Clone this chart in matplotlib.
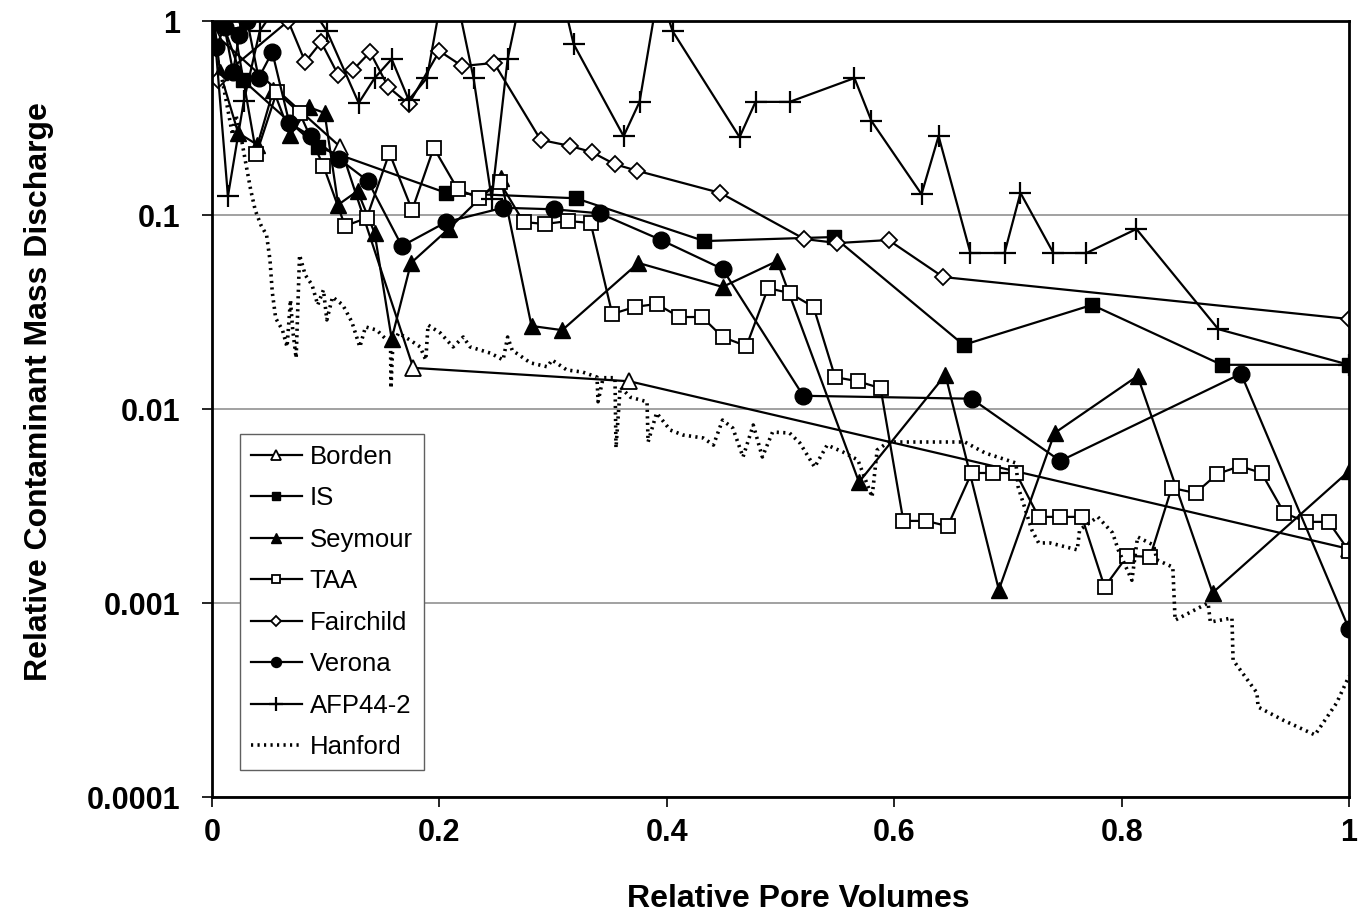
import matplotlib
matplotlib.use("Agg")
import matplotlib.pyplot as plt

plt.rcParams['font.family'] = ['Liberation Sans', 'DejaVu Sans']

# Relative pore volumes (x) and relative contaminant mass discharge (y)
borden_x = [0.003, 0.113, 0.177, 0.367, 1.0]
borden_y = [0.85, 0.224, 0.0163, 0.0139, 0.0019]

is_x = [0.009, 0.027, 0.093, 0.206, 0.320, 0.433, 0.547, 0.661, 0.774, 0.888, 1.0]
is_y = [0.99, 0.497, 0.224, 0.130, 0.122, 0.0734, 0.077, 0.0214, 0.0344, 0.0169, 0.0169]

seymour_x = [0.002, 0.007, 0.023, 0.040, 0.054, 0.069, 0.085, 0.099, 0.111, 0.128, 0.143,
             0.158, 0.175, 0.208, 0.254, 0.281, 0.308, 0.375, 0.449, 0.497, 0.569, 0.645,
             0.692, 0.741, 0.814, 0.880, 1.0]
seymour_y = [1.0, 0.546, 0.265, 0.230, 0.441, 0.259, 0.360, 0.336, 0.113, 0.133, 0.0808,
             0.0230, 0.0566, 0.0847, 0.155, 0.0268, 0.0255, 0.0566, 0.0426, 0.0579, 0.0042,
             0.0150, 0.00117, 0.00752, 0.0148, 0.00113, 0.00479]

taa_x = [0.0185, 0.039, 0.057, 0.077, 0.098, 0.117, 0.136, 0.156, 0.176, 0.195, 0.216,
         0.235, 0.253, 0.274, 0.293, 0.313, 0.333, 0.352, 0.372, 0.391, 0.411, 0.431,
         0.449, 0.470, 0.489, 0.508, 0.529, 0.548, 0.568, 0.588, 0.608, 0.628, 0.647,
         0.668, 0.687, 0.707, 0.727, 0.746, 0.765, 0.785, 0.805, 0.825, 0.844, 0.865,
         0.884, 0.904, 0.923, 0.943, 0.962, 0.982, 1.0]
taa_y = [1.0, 0.206, 0.431, 0.336, 0.179, 0.0878, 0.0965, 0.209, 0.106, 0.222, 0.136,
         0.122, 0.148, 0.092, 0.0899, 0.0931, 0.091, 0.0309, 0.0336, 0.0348, 0.0298, 0.0298,
         0.0235, 0.0211, 0.042, 0.0396, 0.0336, 0.0146, 0.0139, 0.0128, 0.00265, 0.00265, 0.00249,
         0.00468, 0.00468, 0.00468, 0.00278, 0.00278, 0.00278, 0.00121, 0.00175, 0.00173, 0.00392, 0.00369,
         0.00462, 0.00508, 0.00468, 0.00291, 0.00262, 0.00262, 0.00185]

fairchild_x = [0.005, 0.067, 0.082, 0.096, 0.111, 0.124, 0.139, 0.155, 0.173, 0.200, 0.220,
               0.248, 0.289, 0.315, 0.334, 0.354, 0.374, 0.447, 0.521, 0.550, 0.595, 0.643, 1.0]
fairchild_y = [0.497, 1.0, 0.615, 0.779, 0.527, 0.559, 0.692, 0.457, 0.373, 0.70, 0.586,
               0.608, 0.244, 0.227, 0.211, 0.183, 0.169, 0.130, 0.0752, 0.0717, 0.0743, 0.0479, 0.0291]

verona_x = [0.0035, 0.011, 0.0185, 0.024, 0.031, 0.041, 0.053, 0.068, 0.087, 0.112, 0.137,
            0.167, 0.206, 0.256, 0.301, 0.341, 0.395, 0.449, 0.520, 0.668, 0.746, 0.905, 1.0]
verona_y = [0.734, 0.931, 0.546, 0.847, 1.0, 0.508, 0.692, 0.298, 0.255, 0.194, 0.150,
            0.0692, 0.092, 0.109, 0.107, 0.102, 0.0743, 0.0527, 0.0117, 0.0113, 0.0054, 0.0152, 0.000734]

afp_x = [0.002, 0.014, 0.028, 0.042, 0.072, 0.101, 0.129, 0.143, 0.158, 0.173, 0.189,
         0.208, 0.230, 0.246, 0.260, 0.289, 0.318, 0.362, 0.376, 0.393, 0.405, 0.464,
         0.478, 0.508, 0.565, 0.580, 0.624, 0.639, 0.667, 0.697, 0.711, 0.740, 0.769,
         0.813, 0.885, 1.0]
afp_y = [0.90, 0.125, 0.387, 0.888, 1.6, 0.888, 0.378, 0.508, 0.637, 0.392, 0.508,
         2.1, 0.508, 0.121, 0.637, 4.0, 0.761, 0.255, 0.383, 1.48, 0.888, 0.252,
         0.383, 0.383, 0.508, 0.305, 0.128, 0.255, 0.0637, 0.0637, 0.130, 0.0637, 0.0637,
         0.0847, 0.0258, 0.0169]

hanford_x = [0.001, 0.004, 0.009, 0.014, 0.018, 0.021, 0.026, 0.030, 0.034, 0.038, 0.043,
             0.048, 0.051, 0.053, 0.056, 0.062, 0.066, 0.069, 0.071, 0.074, 0.077, 0.082,
             0.088, 0.093, 0.098, 0.101, 0.106, 0.115, 0.123, 0.130, 0.135, 0.145, 0.152,
             0.157, 0.1574, 0.159, 0.164, 0.174, 0.183, 0.188, 0.190, 0.201, 0.212, 0.221,
             0.227, 0.245, 0.256, 0.260, 0.264, 0.280, 0.295, 0.299, 0.312, 0.326, 0.3386,
             0.3395, 0.344, 0.3544, 0.3553, 0.359, 0.368, 0.3826, 0.3835, 0.391, 0.403, 0.414,
             0.432, 0.441, 0.449, 0.458, 0.467, 0.476, 0.484, 0.493, 0.508, 0.517, 0.530,
             0.541, 0.555, 0.568, 0.5805, 0.585, 0.595, 0.629, 0.662, 0.680, 0.707, 0.709,
             0.721, 0.727, 0.737, 0.761, 0.763, 0.779, 0.792, 0.797, 0.809, 0.814, 0.828,
             0.831, 0.845, 0.847, 0.876, 0.878, 0.897, 0.898, 0.919, 0.920, 0.942, 0.970,
             0.989, 1.0]
hanford_y = [0.988, 0.668, 0.497, 0.348, 0.259, 0.328, 0.244, 0.181, 0.135, 0.106, 0.0888,
             0.0788, 0.0586, 0.0401, 0.0294, 0.0255, 0.0209, 0.0365, 0.0255, 0.0183, 0.0622, 0.0491,
             0.0436, 0.0344, 0.0411, 0.0288, 0.0378, 0.0344, 0.0281, 0.0209, 0.0265, 0.0255, 0.0232,
             0.0227, 0.0128, 0.0214, 0.0246, 0.0227, 0.0209, 0.0179, 0.0271, 0.0246, 0.0209, 0.0235,
             0.0209, 0.0194, 0.0179, 0.0235, 0.0201, 0.0173, 0.0165, 0.0179, 0.0159, 0.0155, 0.0146,
             0.0109, 0.0145, 0.0145, 0.0063, 0.013, 0.0115, 0.0109, 0.00676, 0.00954, 0.00779, 0.00735,
             0.00709, 0.00652, 0.00877, 0.00798, 0.00566, 0.00827, 0.00566, 0.00761, 0.00752, 0.00668, 0.00502,
             0.00652, 0.0060, 0.00546, 0.00352, 0.00615, 0.00676, 0.00676, 0.00676, 0.00593, 0.00527, 0.00396,
             0.00238, 0.00204, 0.00204, 0.00188, 0.00238, 0.00278, 0.0023, 0.00188, 0.00131, 0.00219, 0.00199,
             0.00167, 0.00153, 0.000816, 0.001, 0.000798, 0.000837, 0.000508, 0.000344, 0.000291, 0.000249, 0.000209,
             0.000305, 0.00042]

fig = plt.figure(figsize=(13.66, 9.18), dpi=100)
ax = fig.add_axes([0.1552, 0.1318, 0.8324, 0.8453])

lw = 1.6
ax.plot(borden_x, borden_y, color='black', lw=lw, marker='^', ms=11, mfc='white', mec='black', mew=1.3, label='Borden')
ax.plot(is_x, is_y, color='black', lw=lw, marker='s', ms=10, mfc='black', mec='black', label='IS')
ax.plot(seymour_x, seymour_y, color='black', lw=lw, marker='^', ms=12, mfc='black', mec='black', label='Seymour')
ax.plot(taa_x, taa_y, color='black', lw=lw, marker='s', ms=10, mfc='white', mec='black', mew=1.3, label='TAA')
ax.plot(fairchild_x, fairchild_y, color='black', lw=lw, marker='D', ms=8, mfc='white', mec='black', mew=1.3, label='Fairchild')
ax.plot(verona_x, verona_y, color='black', lw=lw, marker='o', ms=12, mfc='black', mec='black', label='Verona')
ax.plot(afp_x, afp_y, color='black', lw=lw, marker='+', ms=16, mew=1.6, label='AFP44-2')
ax.plot(hanford_x, hanford_y, color='black', lw=2.6, ls=(0, (0.6, 1.2)), label='Hanford')

ax.set_yscale('log')
ax.set_xlim(0, 1)
ax.set_ylim(0.0001, 1)
ax.set_yticks([0.0001, 0.001, 0.01, 0.1, 1])
ax.set_yticklabels(['0.0001', '0.001', '0.01', '0.1', '1'])
ax.set_xticks([0, 0.2, 0.4, 0.6, 0.8, 1])
ax.set_xticklabels(['0', '0.2', '0.4', '0.6', '0.8', '1'])
ax.minorticks_off()
ax.yaxis.grid(True, color='#9a9a9a', lw=1.3)
ax.set_axisbelow(True)
for s in ax.spines.values():
    s.set_linewidth(2)
ax.tick_params(axis='both', which='major', labelsize=22, width=1.2, length=7, direction='out')
for t in ax.get_xticklabels() + ax.get_yticklabels():
    t.set_fontweight('bold')
ax.tick_params(axis='x', pad=8)
ax.tick_params(axis='y', pad=16)

ax.set_xlabel('Relative Pore Volumes', fontsize=23, fontweight='bold')
ax.xaxis.set_label_coords(0.5155, -0.112)
ax.set_ylabel('Relative Contaminant Mass Discharge', fontsize=23, fontweight='bold')
ax.yaxis.set_label_coords(-0.139, 0.522)

leg = ax.legend(loc='lower left', bbox_to_anchor=(0.0246, 0.0348), borderaxespad=0,
                fontsize=18.5, markerscale=0.6, handlelength=2.0, handletextpad=0.3,
                labelspacing=0.68, fancybox=False, framealpha=1, edgecolor='#606060',
                borderpad=0.42)
leg.get_frame().set_linewidth(1.0)

fig.savefig('out.png', dpi=100)
